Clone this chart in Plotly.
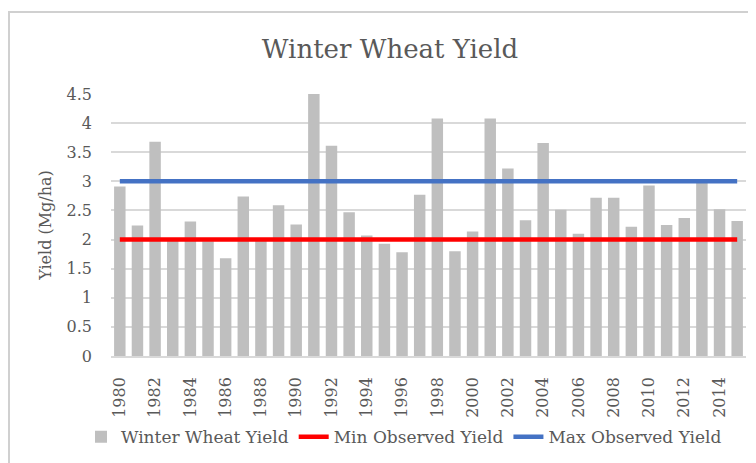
import plotly.graph_objects as go

years = list(range(1980, 2016))
winter_wheat_yield = [2.91, 2.24, 3.68, 2.00, 2.31, 1.97, 1.68, 2.74, 2.00, 2.59,
                      2.26, 4.55, 3.61, 2.47, 2.07, 1.93, 1.78, 2.77, 4.08, 1.80,
                      2.14, 4.08, 3.22, 2.33, 3.66, 2.51, 2.10, 2.72, 2.72, 2.22,
                      2.93, 2.25, 2.37, 3.00, 2.52, 2.32]
min_observed_yield = 2.0
max_observed_yield = 3.0
tick_years = list(range(1980, 2015, 2))
y_ticks = [0, 0.5, 1, 1.5, 2, 2.5, 3, 3.5, 4, 4.5]
y_tick_labels = ["0", "0.5", "1", "1.5", "2", "2.5", "3", "3.5", "4", "4.5"]

FONT = "DejaVu Serif"
GRAY = "#595959"

ML, MT, PW, PH = 103, 86, 635, 262

fig = go.Figure()
fig.add_trace(go.Bar(x=years, y=winter_wheat_yield, name="Winter Wheat Yield",
                     marker=dict(color="#BFBFBF", line=dict(width=0))))
fig.add_trace(go.Scatter(x=years, y=[min_observed_yield] * len(years), mode="lines",
                         name="Min Observed Yield",
                         line=dict(color="#FF0000", width=4.5)))
fig.add_trace(go.Scatter(x=years, y=[max_observed_yield] * len(years), mode="lines",
                         name="Max Observed Yield",
                         line=dict(color="#4472C4", width=4.5)))

fig.update_layout(
    width=756, height=463,
    margin=dict(l=ML, r=756 - ML - PW, t=MT, b=463 - MT - PH),
    paper_bgcolor="white", plot_bgcolor="white",
    bargap=0.35,
    font=dict(family=FONT, color=GRAY, size=15),
    title=dict(text="Winter Wheat Yield", x=(390 - 8) / 756, xanchor="center",
               y=1 - 41 / 463, yanchor="middle", yref="container",
               font=dict(family=FONT, size=26, color=GRAY)),
    showlegend=True,
    legend=dict(orientation="h", x=(81 - 111) / 635, xanchor="left", y=-0.31, yanchor="middle",
                font=dict(family=FONT, size=17, color=GRAY),
                itemwidth=30, tracegroupgap=0, bgcolor="rgba(0,0,0,0)"),
    xaxis=dict(range=[1979.5, 2015.5], tickmode="array", tickvals=tick_years,
               ticktext=[str(y) for y in tick_years], tickangle=-90,
               showgrid=False, showline=True, linecolor="#D9D9D9", linewidth=1.5,
               ticks="", zeroline=False, tickfont=dict(size=16, color=GRAY),
               ticklabelstandoff=13, automargin=False),
    yaxis=dict(range=[0, 4.5], tickmode="array", tickvals=y_ticks, ticktext=y_tick_labels,
               showgrid=True, gridcolor="#D9D9D9", gridwidth=1.5, zeroline=False,
               showline=False, ticks="", tickfont=dict(size=16, color=GRAY),
               ticklabelstandoff=18, automargin=False,
               title=dict(text="Yield (Mg/ha)", standoff=10,
                          font=dict(family=FONT, size=16, color=GRAY))),
    shapes=[dict(type="rect", xref="paper", yref="paper",
                 x0=(1 - ML) / PW, x1=1.2, y0=-0.6, y1=1 + (MT - 4) / PH,
                 line=dict(color="#D0D0D0", width=2), fillcolor="rgba(0,0,0,0)",
                 layer="above")],
)

fig.write_html("out.html")
